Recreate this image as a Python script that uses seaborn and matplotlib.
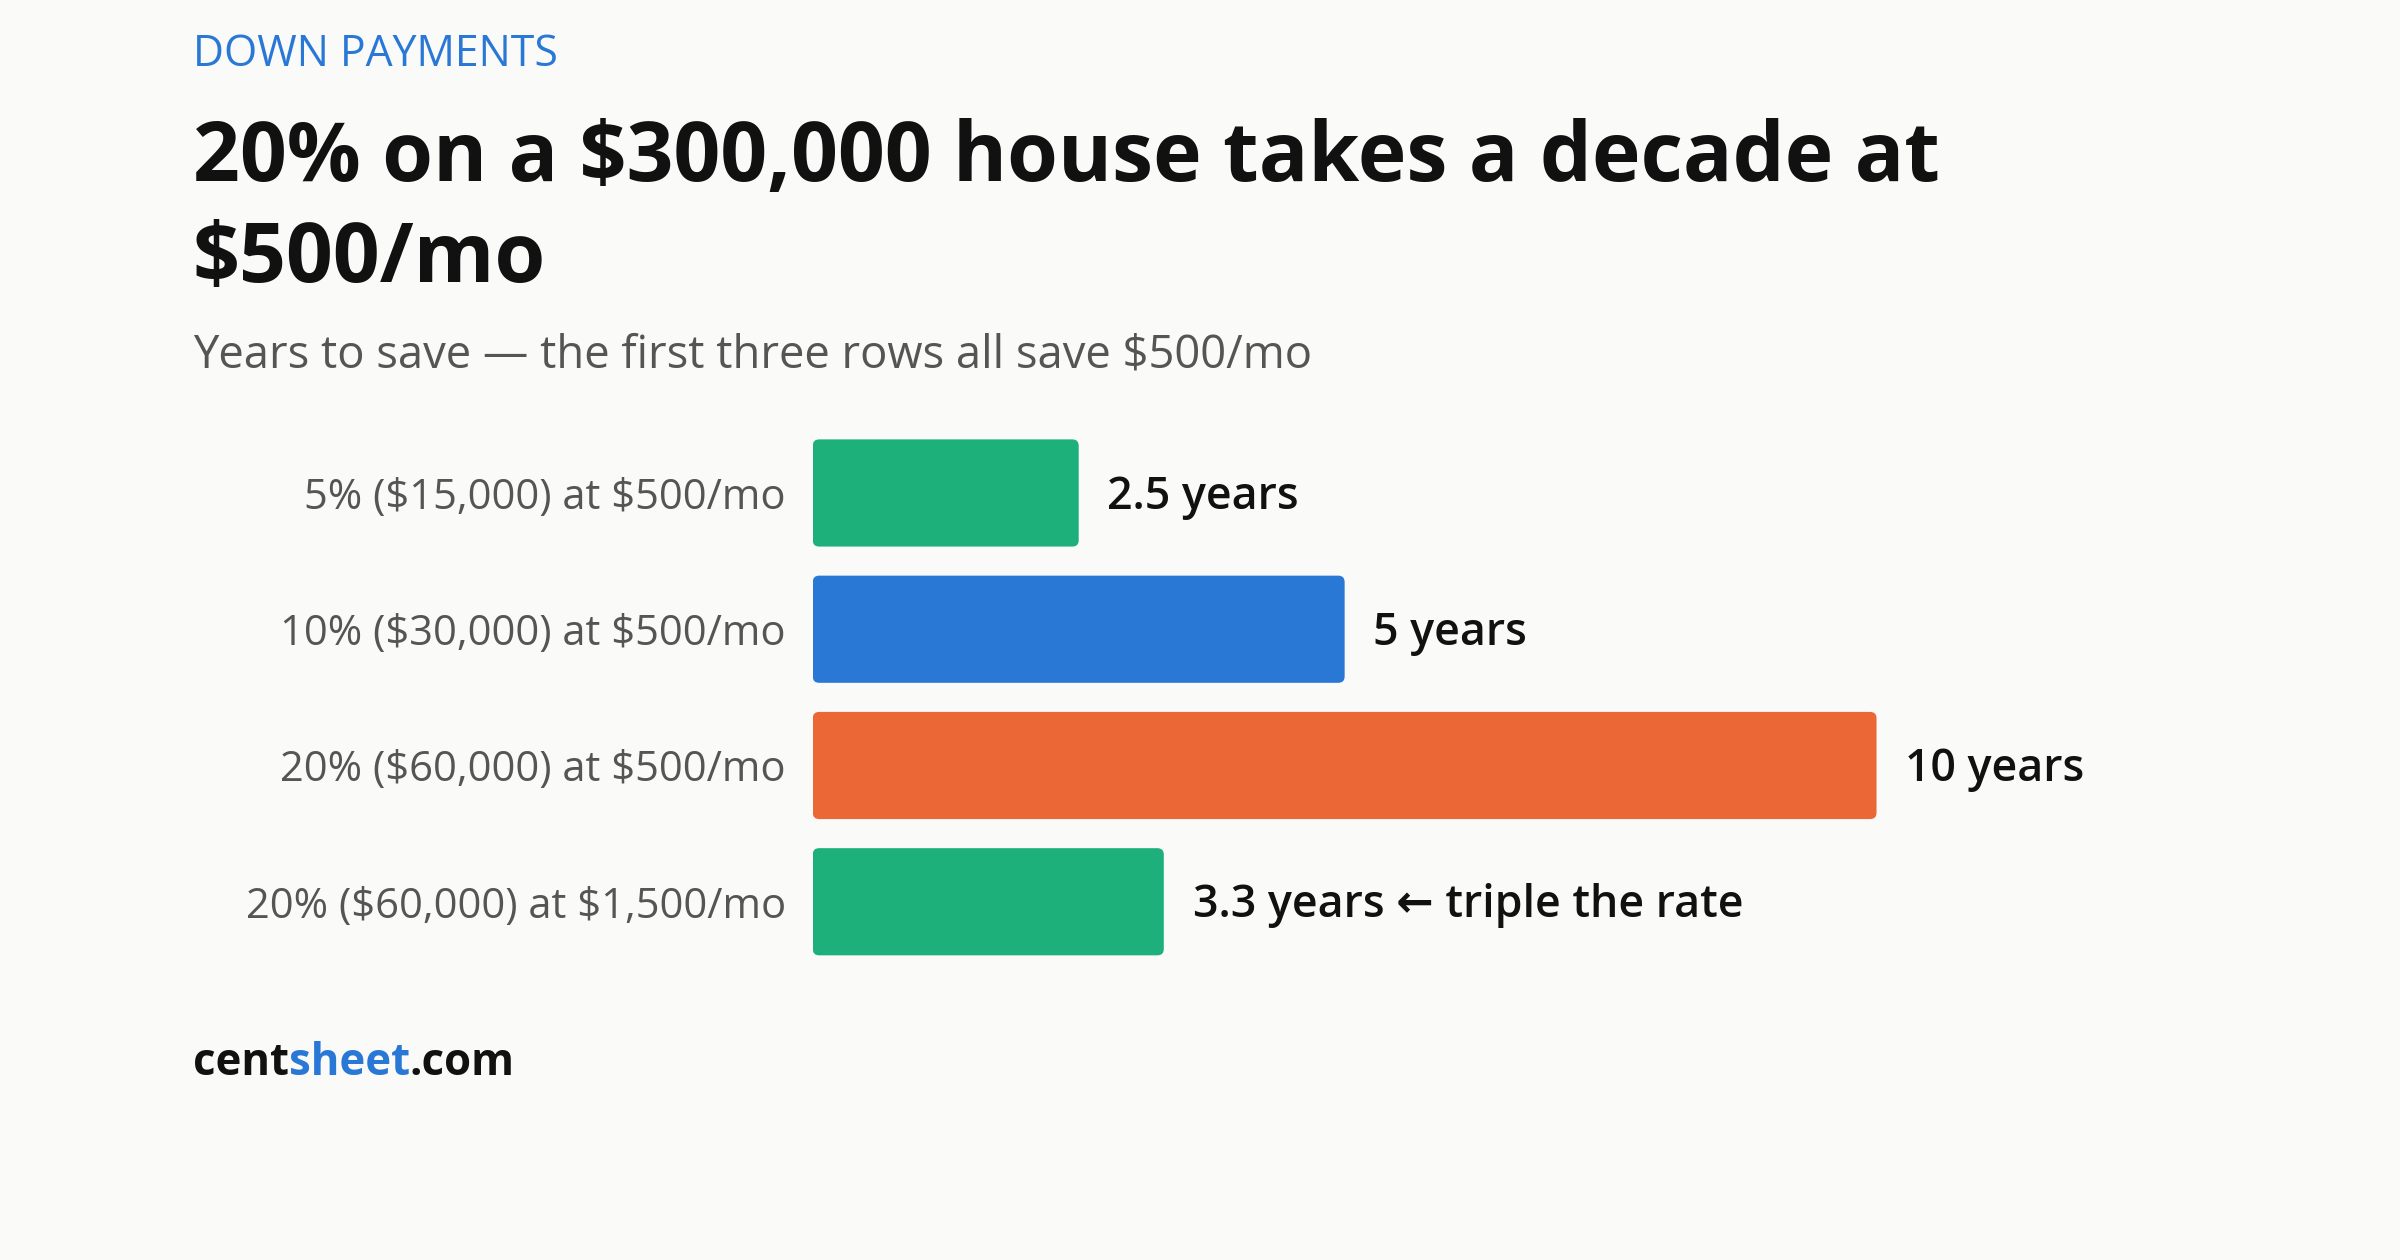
import matplotlib
matplotlib.use("Agg")
import matplotlib.pyplot as plt
import matplotlib.patches as mpatches
import seaborn as sns
import pandas as pd

categories = ["5% ($15,000) at $500/mo", "10% ($30,000) at $500/mo",
              "20% ($60,000) at $500/mo", "20% ($60,000) at $1,500/mo"]
years = [2.5, 5, 10, 3.3]
value_labels = ["2.5 years", "5 years", "10 years", "3.3 years \u2190 triple the rate"]
colors = ["#1DB07A", "#2A78D6", "#EB6836", "#1DB07A"]

sns.set_theme(style="white")
plt.rcParams['font.family'] = ['Open Sans', 'DejaVu Sans']
plt.rcParams['text.parse_math'] = False
bg = "#FAFAF8"
fig = plt.figure(figsize=(16, 8.4), dpi=150, facecolor=bg)
W, H = 1568, 823
ax = fig.add_axes([531/W, 1-633.5/H, 695/W, 356/H], facecolor=bg)
df = pd.DataFrame({"cat": categories, "years": years})
sns.barplot(data=df, x="years", y="cat", hue="cat", palette=colors, legend=False,
            width=70/89, ax=ax, saturation=1)
ax.set_xlim(0, 10)
ax.set_ylim(3.5, -0.5)
ax.set_xlabel(""); ax.set_ylabel("")
ax.set_xticks([])
for s in ax.spines.values():
    s.set_visible(False)
# rounded corners
aspect = (4 / 356) / (10 / 695)
for p in list(ax.patches):
    x, y, w, h = p.get_x(), p.get_y(), p.get_width(), p.get_height()
    fb = mpatches.FancyBboxPatch((x, y), w, h,
                                 boxstyle="round,pad=0,rounding_size=0.06",
                                 mutation_aspect=aspect, facecolor=p.get_facecolor(),
                                 edgecolor="none")
    p.remove()
    ax.add_patch(fb)
ax.tick_params(axis="y", length=0, pad=13, labelsize=20, labelcolor="#555555")
for i, (v, lab) in enumerate(zip(years, value_labels)):
    ax.text(v + 0.27, i + 0.03, lab, va="center", ha="left", fontsize=21.5,
            fontweight="semibold", color="#111111")

fig.text(126/W, 1-36/H, "DOWN PAYMENTS", color="#2A78D6", fontsize=20.5,
         va="center", ha="left")
fig.text(126/W, 1-104/H, "20% on a $300,000 house takes a decade at",
         fontsize=39.5, fontweight="bold", color="#111111", va="center", ha="left")
fig.text(126/W, 1-170/H, "$500/mo",
         fontsize=39.5, fontweight="bold", color="#111111", va="center", ha="left")
fig.text(126/W, 1-232/H, "Years to save \u2014 the first three rows all save $500/mo",
         fontsize=21.8, color="#555555", va="center", ha="left")
base = 1-702/H
t1 = fig.text(126/W, base, "cent", fontsize=21, fontweight="bold",
              color="#111111", va="baseline", ha="left")
fig.canvas.draw()
r = fig.canvas.get_renderer()
bb = t1.get_window_extent(r)
t2 = fig.text(bb.x1/fig.bbox.width, base, "sheet", fontsize=21, fontweight="bold",
              color="#2A78D6", va="baseline", ha="left")
fig.canvas.draw()
bb2 = t2.get_window_extent(r)
fig.text(bb2.x1/fig.bbox.width, base, ".com", fontsize=21, fontweight="bold",
         color="#111111", va="baseline", ha="left")
fig.savefig("out.png", facecolor=bg)
